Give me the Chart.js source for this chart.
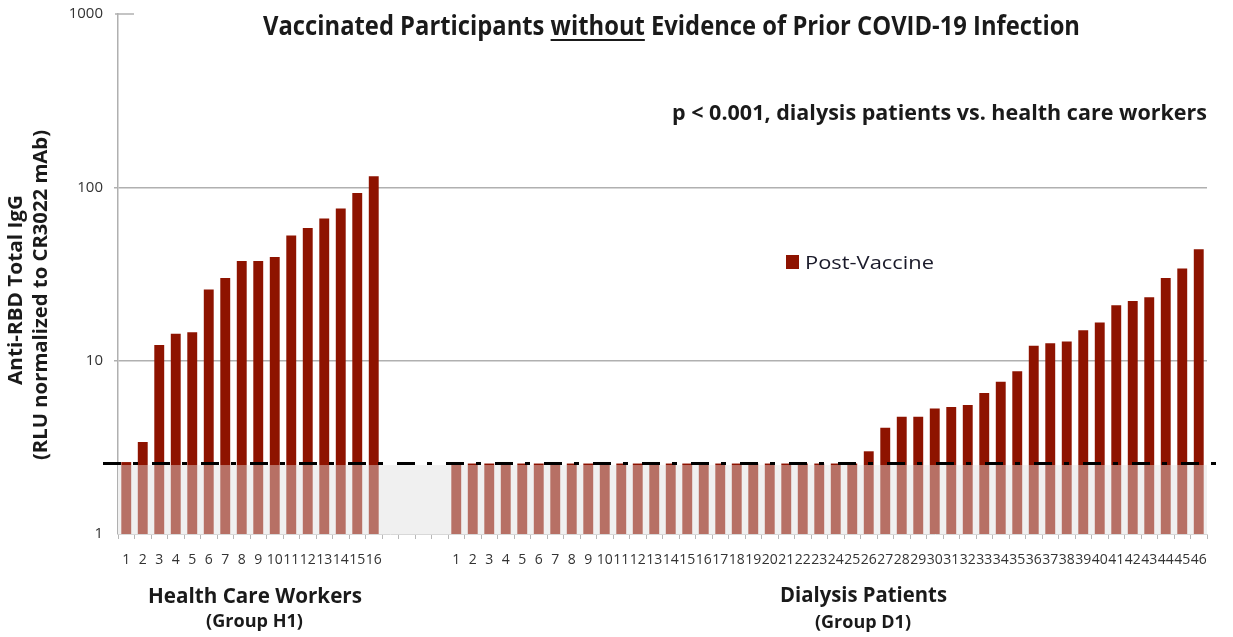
<!DOCTYPE html>
<html>
<head>
<meta charset="utf-8">
<script src="https://cdn.jsdelivr.net/npm/chart.js@4.4.1/dist/chart.umd.min.js"></script>
<style>
  html, body { margin: 0; padding: 0; background: #fff; }
  #wrap { width: 1233px; height: 637px; position: relative; }
</style>
</head>
<body>
<div id="wrap"><canvas id="chart" width="1233" height="637"></canvas></div>
<script>
// --- data ---
const hcwValues = [2.6, 3.4, 12.3, 14.3, 14.6, 25.7, 30.0, 37.6, 37.6, 39.7, 52.7, 58.2, 66.2, 75.4, 92.7, 116];
const dialysisValues = [
    2.55, 2.55, 2.55, 2.55, 2.55, 2.55, 2.55, 2.55, 2.55, 2.55,
    2.55, 2.55, 2.55, 2.55, 2.55, 2.55, 2.55, 2.55, 2.55, 2.55,
    2.55, 2.55, 2.55, 2.55, 2.55,
    3.0, 4.1, 4.75, 4.75, 5.3, 5.4, 5.55, 6.5, 7.55, 8.7,
    12.2, 12.6, 12.9, 15.0, 16.6, 20.9, 22.1, 23.2, 30.0, 34.0, 43.9
];
const gapSlots = 4;
const yTicks = [1, 10, 100, 1000];
const cutoffLine = 2.55;   // dash-dot threshold
const bandTop = 2.5;       // shaded "below detection" band

const FONT = "'Open Sans', 'Noto Sans', sans-serif";
const DARK_RED = '#8e1300';

// labels: 1..16, empty gap, 1..46
const labels = [];
const values = [];
hcwValues.forEach((v, i) => { labels.push(String(i + 1)); values.push(v); });
for (let i = 0; i < gapSlots; i++) { labels.push(''); values.push(null); }
dialysisValues.forEach((v, i) => { labels.push(String(i + 1)); values.push(v); });

// draw text squeezed to a given width (reference uses a narrow face)
function fitText(ctx, text, x, y, font, width, align, color) {
    ctx.save();
    ctx.font = font;
    ctx.fillStyle = color || '#1a1a1a';
    const w = ctx.measureText(text).width;
    const sx = width / w;
    const left = align === 'center' ? x - width / 2 : align === 'right' ? x - width : x;
    ctx.translate(left, y);
    ctx.scale(sx, 1);
    ctx.textAlign = 'left';
    ctx.textBaseline = 'alphabetic';
    ctx.fillText(text, 0, 0);
    ctx.restore();
    return { left: left, sx: sx };
}

const decorPlugin = {
    id: 'decor',
    beforeDatasetsDraw(chart) {
        const { ctx, chartArea, scales } = chart;
        const yTop = scales.y.getPixelForValue(bandTop);
        ctx.save();
        ctx.fillStyle = '#f0f0f0';
        ctx.fillRect(chartArea.left, yTop, chartArea.right - chartArea.left, chartArea.bottom - yTop);
        ctx.restore();
    },
    afterDatasetsDraw(chart) {
        const { ctx, chartArea, scales } = chart;
        const yTop = scales.y.getPixelForValue(bandTop);
        ctx.save();
        // wash over bars below the band
        ctx.fillStyle = 'rgba(240,240,240,0.42)';
        ctx.fillRect(chartArea.left + 1, yTop, chartArea.right - chartArea.left - 1, chartArea.bottom - yTop);
        // dash-dot cutoff line
        const yc = scales.y.getPixelForValue(cutoffLine);
        ctx.strokeStyle = '#000';
        ctx.lineWidth = 3;
        ctx.setLineDash([18, 12, 5, 14]);
        ctx.beginPath();
        ctx.moveTo(chartArea.left - 15, yc);
        ctx.lineTo(chartArea.right + 23, yc);
        ctx.stroke();
        ctx.restore();
    },
    afterDraw(chart) {
        const { ctx, chartArea, scales } = chart;
        ctx.save();
        // short stub at 1000
        const y1000 = scales.y.getPixelForValue(1000);
        ctx.strokeStyle = '#b0b0b0';
        ctx.lineWidth = 1.5;
        ctx.beginPath();
        ctx.moveTo(chartArea.left - 3, y1000);
        ctx.lineTo(chartArea.left + 16, y1000);
        ctx.stroke();
        ctx.restore();

        // title with underlined "without"
        const tFont = 'bold 26px ' + FONT;
        ctx.save();
        ctx.font = tFont;
        const partA = 'Vaccinated Participants ';
        const partB = 'without';
        const partC = ' Evidence of Prior COVID-19 Infection';
        const full = partA + partB + partC;
        const r = fitText(ctx, full, 263, 35, tFont, 817, 'left', '#1a1a1a');
        ctx.font = tFont;
        const ua = ctx.measureText(partA).width * r.sx;
        const ub = ctx.measureText(partB).width * r.sx;
        ctx.fillStyle = '#1a1a1a';
        ctx.fillRect(r.left + ua, 39, ub, 2);
        ctx.restore();

        fitText(ctx, 'p < 0.001, dialysis patients vs. health care workers', 1207, 120, 'bold 22px ' + FONT, 535, 'right', '#1a1a1a');

        // legend
        ctx.save();
        ctx.fillStyle = DARK_RED;
        ctx.fillRect(786, 255, 13, 14);
        ctx.restore();
        fitText(ctx, 'Post-Vaccine', 805, 269, '19px ' + FONT, 129, 'left', '#1a1a2a');

        // group labels
        fitText(ctx, 'Health Care Workers', 148, 603, 'bold 22px ' + FONT, 214, 'left', '#1a1a1a');
        fitText(ctx, '(Group H1)', 206, 627, 'bold 18px ' + FONT, 97, 'left', '#1a1a1a');
        fitText(ctx, 'Dialysis Patients', 780, 602, 'bold 22px ' + FONT, 167, 'left', '#1a1a1a');
        fitText(ctx, '(Group D1)', 815, 628, 'bold 18px ' + FONT, 96, 'left', '#1a1a1a');

        // rotated y-axis title
        ctx.save();
        ctx.translate(22, 290);
        ctx.rotate(-Math.PI / 2);
        fitText(ctx, 'Anti-RBD Total IgG', 0, 0, 'bold 19px ' + FONT, 190, 'center', '#1a1a1a');
        ctx.restore();
        ctx.save();
        ctx.translate(47, 295);
        ctx.rotate(-Math.PI / 2);
        fitText(ctx, '(RLU normalized to CR3022 mAb)', 0, 0, 'bold 19px ' + FONT, 330, 'center', '#1a1a1a');
        ctx.restore();
    }
};

const ctx = document.getElementById('chart').getContext('2d');
new Chart(ctx, {
    type: 'bar',
    data: {
        labels: labels,
        datasets: [{
            label: 'Post-Vaccine',
            data: values,
            backgroundColor: DARK_RED,
            borderWidth: 0,
            barPercentage: 0.6,
            categoryPercentage: 1.0
        }]
    },
    options: {
        responsive: false,
        animation: false,
        layout: { padding: { top: 14, right: 26, left: 0, bottom: 0 } },
        plugins: {
            legend: { display: false },
            tooltip: { enabled: false }
        },
        scales: {
            x: {
                grid: {
                    display: true,
                    drawOnChartArea: false,
                    offset: true,
                    color: '#b8b8b8',
                    tickLength: 5,
                    lineWidth: 1
                },
                border: { display: true, color: '#d8d8d8', width: 1 },
                ticks: {
                    autoSkip: false,
                    maxRotation: 0,
                    minRotation: 0,
                    padding: 13,
                    color: '#333',
                    font: { family: "'Liberation Sans Narrow', " + FONT, size: 14 }
                },
                afterFit: s => { s.height = 103; s.paddingLeft = 0; s.paddingRight = 0; }
            },
            y: {
                type: 'logarithmic',
                min: 1,
                max: 1000,
                afterBuildTicks: s => { s.ticks = yTicks.map(v => ({ value: v })); },
                grid: {
                    color: c => (c.tick && (c.tick.value === 10 || c.tick.value === 100)) ? '#b0b0b0' : 'rgba(0,0,0,0)',
                    lineWidth: 1.5,
                    tickLength: 4
                },
                border: { display: true, color: '#b0b0b0', width: 1.5 },
                ticks: {
                    padding: 11,
                    color: '#333',
                    font: { family: "'Liberation Sans Narrow', " + FONT, size: 15 },
                    callback: v => String(v)
                },
                afterFit: s => { s.width = 118; s.paddingTop = 0; s.paddingBottom = 0; }
            }
        }
    },
    plugins: [decorPlugin]
});
</script>
</body>
</html>
